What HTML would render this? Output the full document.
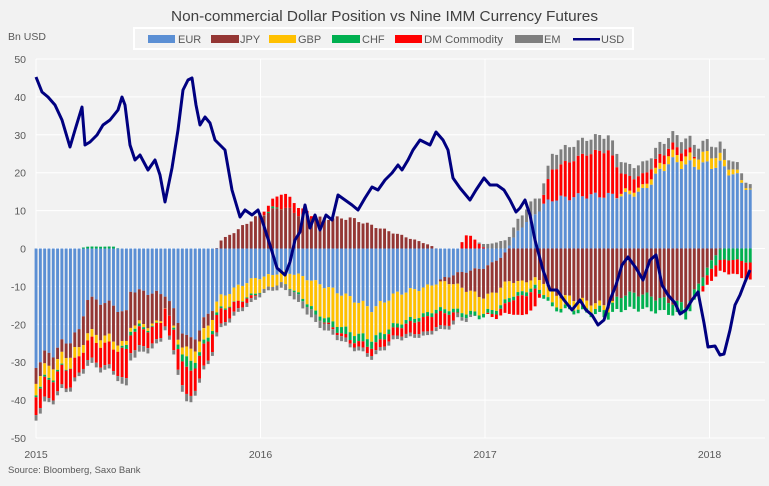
<!DOCTYPE html>
<html><head><meta charset="utf-8"><style>
body{margin:0;background:#f2f2f2;font-family:"Liberation Sans",sans-serif;}
svg text{font-family:"Liberation Sans",sans-serif;fill:#595959;}
</style></head><body>
<svg id="c" width="769" height="481" xmlns="http://www.w3.org/2000/svg">
<rect width="769" height="481" fill="#f2f2f2"/>
<text x="171" y="21" font-size="15" textLength="427" lengthAdjust="spacingAndGlyphs" style="fill:#404040">Non-commercial Dollar Position vs Nine IMM Currency Futures</text>
<text x="8" y="40" font-size="10.5">Bn USD</text>
<rect x="134" y="28" width="499" height="21" fill="#f2f2f2" stroke="#fff" stroke-width="2"/>
<g font-size="11">
<rect x="148" y="35" width="27" height="8" fill="#5b8fd4"/><text x="178" y="43">EUR</text>
<rect x="211" y="35" width="28" height="8" fill="#943634"/><text x="240" y="43">JPY</text>
<rect x="269" y="35" width="27" height="8" fill="#ffc000"/><text x="298" y="43">GBP</text>
<rect x="332" y="35" width="28" height="8" fill="#00b050"/><text x="362" y="43">CHF</text>
<rect x="395" y="35" width="27" height="8" fill="#ff0000"/><text x="424" y="43" textLength="79" lengthAdjust="spacingAndGlyphs">DM Commodity</text>
<rect x="515" y="35" width="28" height="8" fill="#7f7f7f"/><text x="544" y="43">EM</text>
<rect x="573" y="38" width="27" height="2.5" fill="#000080"/><text x="601" y="43">USD</text>
</g>
<g id="grid"></g><g id="bars"></g><g id="line"></g>
<text x="8" y="473" font-size="9.5">Source: Bloomberg, Saxo Bank</text>
</svg>
<script>
var NS="http://www.w3.org/2000/svg";
function el(p,t,a){var e=document.createElementNS(NS,t);for(var k in a)e.setAttribute(k,a[k]);p.appendChild(e);return e;}
var X0=36,YW=224.5,y0=248.5,sc=3.79;
function Y(v){return y0-v*sc;}
var svg=document.getElementById('c'),g=document.getElementById('grid');
for(var v=-50;v<=50;v+=10){el(g,'line',{x1:36,x2:765,y1:Y(v),y2:Y(v),stroke:'#fff','stroke-width':1});
var t=el(svg,'text',{x:26,y:Y(v)+4,'text-anchor':'end','font-size':'10.5'});t.textContent=v;}
for(var i=0;i<4;i++){var x=X0+i*YW;el(g,'line',{x1:x,x2:x,y1:59,y2:438,stroke:'#fff'});
var t=el(svg,'text',{x:x,y:458,'text-anchor':'middle','font-size':'10.5'});t.textContent=2015+i;}
var A=[[0,-30,-4,-3,-.5,-5,-1.5],[.08,-27,-3,-3,-.5,-5,-1],[.17,-23,-4,-3,0,-5,-1],[.2,-22,-5,-2,0,-4,-1],[.22,-13,-9,-2,.5,-5,-1.5],[.35,-15,-9,-2,.5,-6,-1],[.4,-18,-8,-1,-1,-8,-2],[.42,-11,-9,-1,-1,-5,-2],[.55,-12,-8,-.5,0,-4,-1],[.58,-12,-2,0,0,-5,-1],[.6,-15,-5,0,0,-5,-1],[.68,-25,-3,-3,-3,-7,-2],[.72,-22,-3,-3,-1,-6,-1],[.78,-16,-3,-3,-1,-5,-1],[.82,-13,2,-3,-.5,-4,-1],[.9,-10,5,-4,0,-2,-1],[.97,-8,8,-4,-.5,-.5,-1],[1.05,-7,10,-3,.5,2,-1],[1.1,-6,11,-3,0,4,-1.5],[1.17,-7,9,-5,-.5,2,-2],[1.25,-9,8,-8,-1,0,-2],[1.4,-13,8,-9,-2,-1,-1],[1.5,-16,6,-8,-2,-2,-1],[1.6,-12,4,-8,-1,-2,-1],[1.75,-10,1,-7,-1,-4,-1],[1.85,-7,-2,-7,-1,-3,-1],[1.92,-6,-5,-6,-1,4,-1],[2,-5,-8,-4,-1,0,1],[2.08,-2,-8,-5,-1,-2,2],[2.15,5,-9,-3,-1,-5,3],[2.22,9,-8,-2,-1,-5,4],[2.27,12,-9,-3,-1,4,3],[2.3,13,-12,-3,-1,8,4],[2.45,14,-14,-2,-1,11,4],[2.55,14,-15,-1,-2,12,4],[2.62,14,-12,1,-4,4,3],[2.7,15,-12,1,-4,3,3],[2.82,23,-14,2,-3,2,3],[2.9,22,-15,2,-3,2,3],[3,22,-4,3,-2,-3,3],[3.05,22,0,2,-3,-3,3],[3.12,19,0,1,-3,-4,2],[3.2,14,0,0,-4,-5,1]];
var C=['#5b8fd4','#943634','#ffc000','#00b050','#ff0000','#7f7f7f'];
function interp(t,k){for(var i=0;i<A.length-1;i++){if(t<=A[i+1][0]){var f=(t-A[i][0])/(A[i+1][0]-A[i][0]);return A[i][k]+f*(A[i+1][k]-A[i][k]);}}return A[A.length-1][k];}
var b=document.getElementById('bars');
for(var w=0;w<167;w++){var t=w/52.18;if(t>3.2)break;var x=X0+t*YW;var pos=0,neg=0;
for(var k=1;k<=6;k++){var v=interp(t,k)*(1+0.06*Math.sin(w*1.7+k));if(v>=0){el(b,'rect',{x:x-1.4,y:Y(pos+v),width:2.9,height:v*sc,fill:C[k-1]});pos+=v;}else{el(b,'rect',{x:x-1.4,y:Y(neg),width:2.9,height:-v*sc,fill:C[k-1]});neg+=v;}}}
var P=[[36,77],[42,92],[48,97],[55,105],[62,120],[70,147],[75,130],[82,107],[85,145],[90,142],[97,135],[103,125],[110,120],[118,110],[122,97],[125,105],[130,145],[135,160],[140,155],[148,170],[155,160],[160,175],[165,202],[172,168],[178,130],[183,90],[188,80],[192,78],[196,105],[200,125],[205,117],[210,123],[215,140],[225,150],[232,190],[240,217],[245,210],[252,215],[258,210],[262,220],[270,245],[277,268],[285,275],[290,262],[295,240],[300,232],[305,205],[310,228],[315,215],[320,230],[326,215],[332,220],[338,195],[345,200],[352,205],[358,210],[365,198],[372,187],[378,190],[385,180],[392,173],[398,165],[402,170],[408,160],[413,150],[420,140],[424,142],[430,145],[436,132],[443,140],[448,150],[453,178],[460,188],[470,200],[476,190],[484,178],[490,185],[497,185],[504,190],[510,200],[516,212],[520,208],[525,200],[530,215],[535,240],[543,270],[550,290],[557,290],[564,300],[572,310],[580,300],[586,310],[592,315],[598,325],[604,320],[610,300],[616,285],[622,265],[628,257],[636,268],[643,280],[650,260],[656,255],[662,285],[668,295],[675,303],[680,314],[686,310],[692,300],[698,292],[704,323],[708,347],[715,346],[720,355],[724,354],[730,330],[735,305],[740,295],[745,282],[750,270]];
el(document.getElementById('line'),'polyline',{points:P.map(function(p){return p.join(',')}).join(' '),fill:'none',stroke:'#000080','stroke-width':3,'stroke-linejoin':'round'});
</script>
</body></html>
